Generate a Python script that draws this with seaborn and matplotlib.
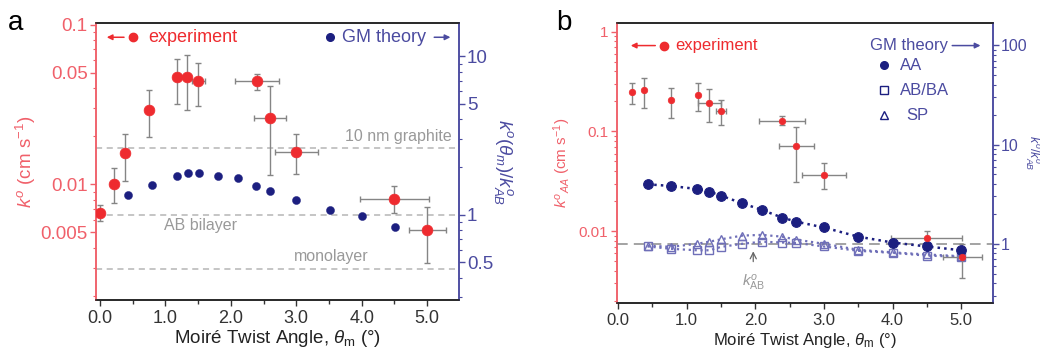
import numpy as np
import pandas as pd
import matplotlib
matplotlib.use("Agg")
import matplotlib.pyplot as plt
import seaborn as sns
from matplotlib.ticker import FixedLocator, FixedFormatter, NullFormatter

# ---------------- data ----------------
# panel a : experiment (left axis, cm/s)
a_exp_x = [0.0, 0.22, 0.38, 0.75, 1.17, 1.33, 1.50, 2.40, 2.60, 3.00, 4.50, 5.00]
a_exp_k = [0.0066, 0.0101, 0.0157, 0.029, 0.047, 0.047, 0.044, 0.044, 0.026, 0.016, 0.0081, 0.0052]
a_exp_hi = [0.0074, 0.0127, 0.0207, 0.039, 0.061, 0.064, 0.057, 0.049, 0.041, 0.0207, 0.0098, 0.0072]
a_exp_lo = [0.0059, 0.0076, 0.0104, 0.0197, 0.032, 0.029, 0.031, 0.039, 0.0115, 0.0116, 0.0066, 0.0032]
a_exp_xerr = [0, 0, 0, 0, 0, 0, 0.10, 0.33, 0.25, 0.33, 0.53, 0.28]
# panel a : GM theory (right axis, ratio)
a_th_x = [0.43, 0.79, 1.17, 1.35, 1.51, 1.81, 2.11, 2.39, 2.60, 3.00, 3.51, 4.00, 4.51]
a_th_r = [1.33, 1.54, 1.76, 1.82, 1.84, 1.76, 1.69, 1.52, 1.40, 1.24, 1.075, 0.985, 0.83]
a_ref_vals = [2.65, 1.0, 0.45]
a_ref_names = ["10 nm graphite", "AB bilayer", "monolayer"]

# panel b : experiment
b_exp_x = [0.21, 0.38, 0.77, 1.16, 1.33, 1.50, 2.39, 2.60, 3.00, 4.50, 5.02]
b_exp_k = [0.246, 0.26, 0.205, 0.233, 0.194, 0.161, 0.127, 0.070, 0.0363, 0.0084, 0.0054]
b_exp_hi = [0.303, 0.345, 0.274, 0.303, 0.266, 0.206, 0.142, 0.110, 0.0475, 0.0099, 0.0073]
b_exp_lo = [0.187, 0.172, 0.137, 0.160, 0.123, 0.114, 0.114, 0.0306, 0.026, 0.0071, 0.0033]
b_exp_xerr = [0, 0, 0, 0, 0.17, 0.08, 0.33, 0.25, 0.32, 0.52, 0.28]
# panel b : GM theory
b_th_x = [0.43, 0.77, 1.15, 1.33, 1.50, 1.81, 2.10, 2.39, 2.60, 3.00, 3.50, 4.00, 4.50, 5.00]
b_aa = [3.98, 3.83, 3.57, 3.36, 3.06, 2.56, 2.19, 1.84, 1.67, 1.46, 1.18, 1.03, 0.94, 0.86]
b_abba = [0.94, 0.89, 0.86, 0.86, 0.93, 1.00, 1.05, 1.03, 1.02, 0.94, 0.85, 0.81, 0.76, 0.74]
b_sp = [0.96, 0.93, 1.00, 1.05, 1.11, 1.21, 1.23, 1.18, 1.10, 1.00, 0.87, 0.82, 0.78, 0.75]
k_ab_ref = 0.0073   # left-axis value that sits at ratio 1 in panel b

# ---------------- style ----------------
sns.set_theme(style="ticks")
plt.rcParams["font.family"] = ["Liberation Sans", "DejaVu Sans"]
plt.rcParams["mathtext.fontset"] = "custom"
plt.rcParams["mathtext.rm"] = "Liberation Sans"
plt.rcParams["mathtext.it"] = "Liberation Sans:italic"
plt.rcParams["mathtext.bf"] = "Liberation Sans:bold"

RED = "#ee2b2f"
RED_AX = "#f0606a"
NAVY = "#1c1f80"
NAVY_AX = "#4b4ba0"
LIGHTB = "#6f6fb8"
GRAY = "#999999"
EGRAY = "#858585"

fig = plt.figure(figsize=(10.4, 3.56), dpi=100)


def setup_axes(ax, axr, xlim, ylim, rlim, lmaj, llab, rmaj, rlab, lfs, rfs, xfs):
    ax.set_yscale("log")
    axr.set_yscale("log")
    ax.set_xlim(*xlim)
    ax.set_ylim(*ylim)
    axr.set_ylim(*rlim)
    ax.xaxis.set_major_locator(FixedLocator([0, 1, 2, 3, 4, 5]))
    ax.xaxis.set_major_formatter(FixedFormatter(["0.0", "1.0", "2.0", "3.0", "4.0", "5.0"]))
    ax.xaxis.set_minor_locator(FixedLocator([0.5, 1.5, 2.5, 3.5, 4.5]))
    ax.yaxis.set_major_locator(FixedLocator(lmaj))
    ax.yaxis.set_major_formatter(FixedFormatter(llab))
    axr.yaxis.set_major_locator(FixedLocator(rmaj))
    axr.yaxis.set_major_formatter(FixedFormatter(rlab))
    lo, hi = ylim
    mins = [m * 10.0 ** e for e in range(-4, 2) for m in range(1, 10) if lo <= m * 10.0 ** e <= hi]
    ax.yaxis.set_minor_locator(FixedLocator(mins))
    ax.yaxis.set_minor_formatter(NullFormatter())
    lo, hi = rlim
    mins = [m * 10.0 ** e for e in range(-2, 4) for m in range(1, 10) if lo <= m * 10.0 ** e <= hi]
    axr.yaxis.set_minor_locator(FixedLocator(mins))
    axr.yaxis.set_minor_formatter(NullFormatter())

    ax.tick_params(axis="x", which="major", direction="out", length=4, width=1,
                   labelsize=xfs, colors="#333333", pad=3)
    ax.tick_params(axis="x", which="minor", direction="out", length=3, width=1, colors="#333333")
    ax.tick_params(axis="y", which="major", direction="out", length=4, width=1,
                   labelsize=lfs, colors=RED_AX, labelcolor=RED_AX, pad=2)
    ax.tick_params(axis="y", which="minor", direction="out", length=2, width=0.8, colors=RED_AX)
    axr.tick_params(axis="y", which="major", direction="out", length=4, width=1,
                    labelsize=rfs, colors=NAVY_AX, labelcolor=NAVY_AX, pad=2)
    axr.tick_params(axis="y", which="minor", direction="out", length=2, width=0.8, colors=NAVY_AX)

    for a in (ax, axr):
        a.spines["top"].set_color("#222222")
        a.spines["bottom"].set_color("#222222")
        a.spines["left"].set_color(RED_AX)
        a.spines["right"].set_color(NAVY_AX)
        for s in a.spines.values():
            s.set_linewidth(1.1)


def draw_exp(ax, x, k, hi, lo, xerr, size):
    df = pd.DataFrame({"theta": x, "k": k})
    yerr = np.array([np.array(k) - np.array(lo), np.array(hi) - np.array(k)])
    ax.errorbar(df["theta"], df["k"], yerr=yerr, xerr=xerr, fmt="none", ecolor=EGRAY,
                elinewidth=1.0, capsize=2.5, capthick=1.0, zorder=2)
    sns.scatterplot(data=df, x="theta", y="k", ax=ax, color=RED, s=size, edgecolor=RED,
                    linewidth=0.5, zorder=3, legend=False)


# ================= panel a =================
axa = fig.add_axes([0.0923, 0.157, 0.3487, 0.778])
axar = axa.twinx()
axa.set_zorder(2)
axa.patch.set_visible(False)
setup_axes(axa, axar, (-0.06, 5.48), (0.00188, 0.102), (0.288, 16.2),
           [0.005, 0.01, 0.05, 0.1], ["0.005", "0.01", "0.05", "0.1"],
           [0.5, 1, 5, 10], ["0.5", "1", "5", "10"], 13.5, 13.5, 13)

for v in a_ref_vals:
    axar.axhline(v, color="#b5b5b5", lw=1.1, ls=(0, (4, 3)), zorder=1)
axar.text(5.38, 3.1, a_ref_names[0], color=GRAY, fontsize=11.5, ha="right", va="center")
axar.text(1.54, 0.85, a_ref_names[1], color=GRAY, fontsize=11.5, ha="center", va="center")
axar.text(3.53, 0.54, a_ref_names[2], color=GRAY, fontsize=11.5, ha="center", va="center")

df_ath = pd.DataFrame({"theta": a_th_x, "ratio": a_th_r})
sns.scatterplot(data=df_ath, x="theta", y="ratio", ax=axar, color=NAVY, s=34,
                edgecolor=NAVY, linewidth=0.3, legend=False, zorder=3)
draw_exp(axa, a_exp_x, a_exp_k, a_exp_hi, a_exp_lo, a_exp_xerr, 60)

axa.set_ylabel(r"$k^o$ (cm s$^{-1}$)", color=RED_AX, fontsize=13.5, labelpad=2)
axar.set_ylabel(r"$k^o(\theta_m)/k^o_{AB}$", color=NAVY_AX, fontsize=13.5, rotation=270, labelpad=16)
axa.set_xlabel(r"Moiré Twist Angle, $\theta_{\rm m}$ (°)", fontsize=13.5, color="#222222", labelpad=1)

# in-plot legend texts
ty = 0.949
axa.annotate("", xy=(0.022, ty), xytext=(0.085, ty), xycoords="axes fraction",
             arrowprops=dict(arrowstyle="-|>", color=RED, lw=1.1, mutation_scale=8))
axa.plot([0.102], [ty], "o", color=RED, ms=6, transform=axa.transAxes, clip_on=False)
axa.text(0.143, ty, "experiment", color=RED, fontsize=13, transform=axa.transAxes,
         ha="left", va="center")
axa.plot([0.645], [ty], "o", color=NAVY, ms=5.5, transform=axa.transAxes, clip_on=False)
axa.text(0.678, ty, "GM theory", color=NAVY_AX, fontsize=13, transform=axa.transAxes,
         ha="left", va="center")
axa.annotate("", xy=(0.985, ty), xytext=(0.925, ty), xycoords="axes fraction",
             arrowprops=dict(arrowstyle="-|>", color=NAVY_AX, lw=1.1, mutation_scale=8))

# ================= panel b =================
axb = fig.add_axes([0.593, 0.1475, 0.3615, 0.7875])
axbr = axb.twinx()
setup_axes(axb, axbr, (-0.02, 5.46), (0.00188, 1.22), (0.25, 168),
           [0.01, 0.1, 1], ["0.01", "0.1", "1"],
           [1, 10, 100], ["1", "10", "100"], 11, 11.5, 12)

axbr.axhline(1.0, color="#8a8a8a", lw=1.1, ls=(0, (7, 4)), zorder=1)
df_b = pd.DataFrame({"theta": b_th_x, "AA": b_aa, "AB/BA": b_abba, "SP": b_sp})
sns.lineplot(data=df_b, x="theta", y="AB/BA", ax=axbr, color=LIGHTB, lw=1.6, ls=":",
             marker="s", ms=6, mfc="none", mec=LIGHTB, mew=1.0, zorder=2)
sns.lineplot(data=df_b, x="theta", y="SP", ax=axbr, color=LIGHTB, lw=1.6, ls=":",
             marker="^", ms=6, mfc="none", mec=LIGHTB, mew=1.0, zorder=2)
sns.lineplot(data=df_b, x="theta", y="AA", ax=axbr, color=NAVY, lw=1.8, ls=":",
             marker="o", ms=7, mfc=NAVY, mec=NAVY, zorder=3)
draw_exp(axbr, b_exp_x, [v / k_ab_ref for v in b_exp_k], [v / k_ab_ref for v in b_exp_hi],
         [v / k_ab_ref for v in b_exp_lo], b_exp_xerr, 22)

axbr.annotate(r"$k^o_{\rm AB}$", xy=(1.97, 0.84), xytext=(1.97, 0.40), color=GRAY,
              fontsize=11, ha="center", va="center",
              arrowprops=dict(arrowstyle="->", color="#666666", lw=0.9, shrinkA=6, shrinkB=0))

axb.set_ylabel(r"$k^o{}_{AA}$ (cm s$^{-1}$)", color=RED_AX, fontsize=11, labelpad=4)
axbr.set_ylabel("")
fig.text(0.9925, 0.57, r"$k^o/k^o_{AB}$", color=NAVY_AX, fontsize=9, rotation=270,
         ha="center", va="center")
axb.set_xlabel(r"Moiré Twist Angle, $\theta_{\rm m}$ (°)", fontsize=12, color="#222222", labelpad=2)
axbr.set_xlabel("")

ty = 0.92
axb.annotate("", xy=(0.03, ty), xytext=(0.11, ty), xycoords="axes fraction",
             arrowprops=dict(arrowstyle="-|>", color=RED, lw=1.1, mutation_scale=8))
axb.plot([0.126], [ty], "o", color=RED, ms=6, transform=axb.transAxes, clip_on=False)
axb.text(0.157, ty, "experiment", color=RED, fontsize=12, transform=axb.transAxes,
         ha="left", va="center")
axb.text(0.675, ty, "GM theory", color=NAVY_AX, fontsize=12, transform=axb.transAxes,
         ha="left", va="center")
axb.annotate("", xy=(0.975, ty), xytext=(0.885, ty), xycoords="axes fraction",
             arrowprops=dict(arrowstyle="-|>", color=NAVY_AX, lw=1.1, mutation_scale=8))
for yy, mk, lab, xt in [(0.85, "o", "AA", 0.753), (0.761, "s", "AB/BA", 0.753), (0.672, "^", "SP", 0.77)]:
    if mk == "o":
        axb.plot([0.712], [yy], mk, color=NAVY, ms=5.5, transform=axb.transAxes)
    else:
        axb.plot([0.712], [yy], mk, mfc="none", mec=NAVY, mew=1.0, ms=5.5, transform=axb.transAxes)
    axb.text(xt, yy, lab, color=NAVY_AX, fontsize=12, transform=axb.transAxes,
             ha="left", va="center")

# panel letters
fig.text(0.008, 0.915, "a", fontsize=20, color="black")
fig.text(0.535, 0.915, "b", fontsize=20, color="black")

fig.savefig("out.png", dpi=100)
